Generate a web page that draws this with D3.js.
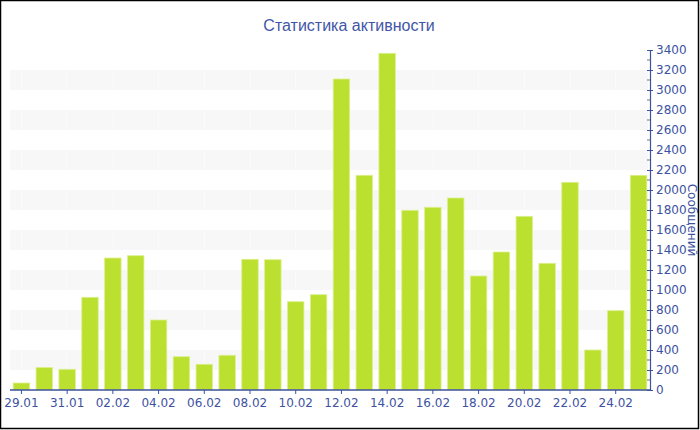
<!DOCTYPE html>
<html><head><meta charset="utf-8">
<script src="https://cdn.jsdelivr.net/npm/d3@7"></script>
<style>body{margin:0;background:#fff}svg{display:block}</style>
</head><body>
<svg id="c" width="700" height="430"></svg>
<script>
const dates = ["29.01","30.01","31.01","01.02","02.02","03.02","04.02","05.02","06.02","07.02","08.02","09.02","10.02","11.02","12.02","13.02","14.02","15.02","16.02","17.02","18.02","19.02","20.02","21.02","22.02","23.02","24.02","25.02"];
const messages = [70,225,207,927,1320,1343,700,333,257,347,1307,1303,883,953,3110,2147,3367,1797,1827,1920,1140,1380,1737,1267,2077,400,793,2147];
const tickLabels = ["29.01","31.01","02.02","04.02","06.02","08.02","10.02","12.02","14.02","16.02","18.02","20.02","22.02","24.02"];
const yTicks = d3.range(0, 3401, 200);
const bands = [[200,400],[600,800],[1000,1200],[1400,1600],[1800,2000],[2200,2400],[2600,2800],[3000,3200]];
const title = "Статистика активности";
const yTitle = "Сообщений";

const svg = d3.select("#c");
const L = 10, R = 650, T = 50, B = 390;
const blue = "#3d52a1";
const x = d3.scaleBand().domain(dates).range([L, R]).paddingInner(0.28).paddingOuter(0.14);
const y = d3.scaleLinear().domain([0, 3400]).range([B, T]);

// bands
const bg = svg.append("g");
bg.selectAll("rect").data(bands).join("rect")
  .attr("x", L).attr("width", R - L - 2)
  .attr("y", d => y(d[1])).attr("height", d => y(d[0]) - y(d[1]))
  .attr("fill", "#f7f7f7");
// faint vertical grid inside bands
bands.forEach(b => {
  bg.append("g").selectAll("line").data(tickLabels).join("line")
    .attr("x1", d => x(d) + x.bandwidth()/2).attr("x2", d => x(d) + x.bandwidth()/2)
    .attr("y1", y(b[1])).attr("y2", y(b[0])).attr("stroke", "#fbfbfb").attr("stroke-width", 1);
});

// bars
svg.append("g").selectAll("rect").data(messages).join("rect")
  .attr("x", (d,i) => x(dates[i])).attr("width", x.bandwidth())
  .attr("y", d => y(d)).attr("height", d => B - y(d))
  .attr("fill", "#bce02f").attr("stroke", "#dbf08f").attr("stroke-width", 0.8);

// x axis
const xa = svg.append("g").attr("transform", `translate(0,${B})`)
  .call(d3.axisBottom(x).tickValues(tickLabels).tickSize(4).tickSizeOuter(0).tickPadding(4));
xa.select(".domain").attr("stroke", blue).attr("stroke-width", 1.5).attr("d", `M${L},0H${R}`);
xa.selectAll(".tick line").attr("stroke", blue);
xa.selectAll("text").attr("fill", blue).style("font", "12px 'DejaVu Sans'");

// y axis right
const ya = svg.append("g").attr("transform", `translate(${R},0)`)
  .call(d3.axisRight(y).tickValues(yTicks).tickFormat(d3.format("d")).tickSize(3).tickSizeOuter(0).tickPadding(3));
ya.select(".domain").attr("stroke", blue).attr("stroke-width", 1.2);
ya.selectAll(".tick line").attr("stroke", blue).attr("x1", -3);
ya.selectAll("text").attr("fill", blue).style("font", "12px 'DejaVu Sans'");
// minor ticks
svg.append("g").selectAll("line").data(d3.range(100, 3400, 200)).join("line")
  .attr("x1", R - 3).attr("x2", R).attr("y1", d => y(d)).attr("y2", d => y(d))
  .attr("stroke", "#777").attr("stroke-width", 1);

// titles
svg.append("text").attr("x", 349).attr("y", 31).attr("text-anchor", "middle")
  .attr("fill", "#4256a6").style("font", "16px 'Liberation Sans', Arial, sans-serif").text(title);
svg.append("text").attr("transform", `translate(688,${(T+B)/2}) rotate(90)`).attr("text-anchor", "middle")
  .attr("fill", blue).style("font", "12px 'DejaVu Sans'").text(yTitle);

// border
svg.append("rect").attr("x", 0.5).attr("y", 0.5).attr("width", 698).attr("height", 428)
  .attr("fill", "none").attr("stroke", "#000").attr("stroke-width", 1.5);
</script>
</body></html>
